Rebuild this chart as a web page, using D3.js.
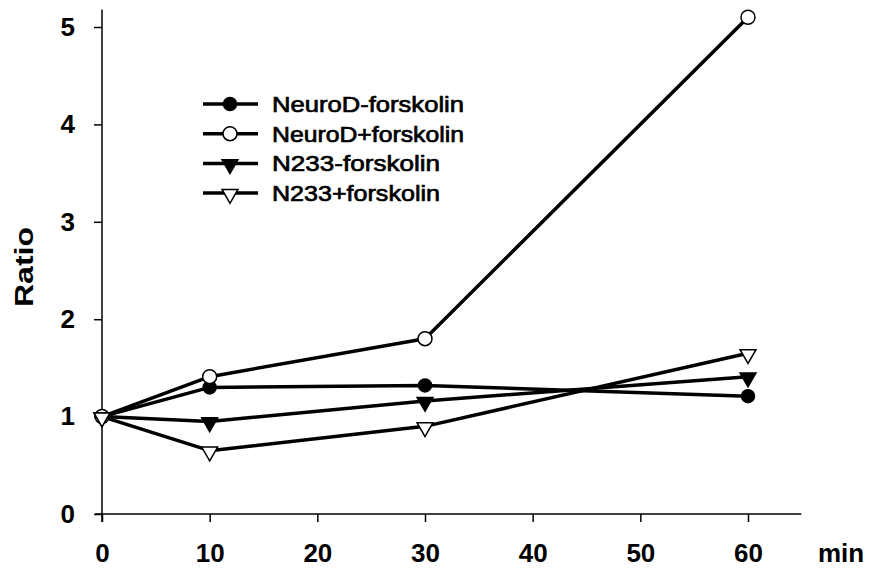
<!DOCTYPE html>
<html>
<head>
<meta charset="utf-8">
<script src="https://cdn.jsdelivr.net/npm/d3@7"></script>
<style>
  body { margin: 0; background: #fff; }
  svg { display: block; }
  text { font-family: "Liberation Sans", Arial, sans-serif; fill: #000; }
</style>
</head>
<body>
<div id="chart"></div>
<script>
// tempos (min) e séries
const minutos = [0, 10, 30, 60];
const neuroDMenos = [1.0, 1.3, 1.32, 1.21];
const neuroDMais = [1.0, 1.41, 1.8, 5.1];
const n233Menos = [1.0, 0.95, 1.16, 1.41];
const n233Mais = [1.0, 0.65, 0.9, 1.65];
const xTicks = [0, 10, 20, 30, 40, 50, 60];
const yTicks = [0, 1, 2, 3, 4, 5];

const series = [
    { name: "NeuroD-forskolin", values: neuroDMenos, shape: "circle", filled: true },
    { name: "NeuroD+forskolin", values: neuroDMais, shape: "circle", filled: false },
    { name: "N233-forskolin", values: n233Menos, shape: "triangle", filled: true },
    { name: "N233+forskolin", values: n233Mais, shape: "triangle", filled: false }
];

const width = 877, height = 569;

const svg = d3.select("#chart")
    .append("svg")
    .attr("width", width)
    .attr("height", height);

const x = d3.scaleLinear().domain([0, 60]).range([102, 748]);
const y = d3.scaleLinear().domain([0, 5]).range([514, 27]);

// eixos
const xAxis = svg.append("g")
    .attr("transform", "translate(0," + y(0) + ")")
    .call(d3.axisBottom(x).tickValues(xTicks).tickFormat(d3.format("d"))
        .tickSize(8).tickSizeOuter(0).tickPadding(22));
xAxis.select(".domain").remove();

const yAxis = svg.append("g")
    .attr("transform", "translate(" + x(0) + ",0)")
    .call(d3.axisLeft(y).tickValues(yTicks).tickFormat(d3.format("d"))
        .tickSize(8).tickSizeOuter(0).tickPadding(19));
yAxis.select(".domain").remove();

svg.selectAll(".tick line").attr("stroke", "#000").attr("stroke-width", 1.5);
svg.selectAll(".tick text")
    .style("font-family", "'Liberation Sans', Arial, sans-serif")
    .style("font-size", "26px")
    .style("font-weight", "bold")
    .attr("fill", "#000");

svg.append("line")
    .attr("x1", x(-0.65)).attr("x2", x(64.95))
    .attr("y1", y(0)).attr("y2", y(0))
    .attr("stroke", "#000").attr("stroke-width", 1.5);
svg.append("line")
    .attr("x1", x(0)).attr("x2", x(0))
    .attr("y1", y(5.18)).attr("y2", y(0) + 8)
    .attr("stroke", "#000").attr("stroke-width", 1.5);

svg.append("text")
    .attr("x", 818).attr("y", 562)
    .style("font-size", "26px").style("font-weight", "bold")
    .text("min");

svg.append("text")
    .attr("transform", "translate(33,267) rotate(-90)")
    .attr("text-anchor", "middle")
    .attr("textLength", 80)
    .attr("lengthAdjust", "spacingAndGlyphs")
    .style("font-size", "26px").style("font-weight", "bold")
    .text("Ratio");

// linhas e marcadores
const line = d3.line()
    .x((d, i) => x(minutos[i]))
    .y(d => y(d));

function drawMarker(g, s, cx, cy) {
    if (s.shape === "circle") {
        g.append("circle")
            .attr("cx", cx).attr("cy", cy)
            .attr("r", s.filled ? 6.5 : 7)
            .attr("fill", s.filled ? "#000" : "#fff")
            .attr("stroke", "#000")
            .attr("stroke-width", 1.5);
    } else {
        const sym = d3.symbol().type(d3.symbolTriangle).size(110);
        g.append("path")
            .attr("d", sym())
            .attr("transform", "translate(" + cx + "," + (cy + 1) + ") rotate(180)")
            .attr("fill", s.filled ? "#000" : "#fff")
            .attr("stroke", "#000")
            .attr("stroke-width", 1.5);
    }
}

series.forEach(s => {
    svg.append("path")
        .datum(s.values)
        .attr("d", line)
        .attr("fill", "none")
        .attr("stroke", "#000")
        .attr("stroke-width", 3.5)
        .attr("stroke-linejoin", "round");
});

series.forEach(s => {
    const g = svg.append("g");
    s.values.forEach((v, i) => drawMarker(g, s, x(minutos[i]), y(v)));
});

// legenda
const legend = svg.append("g");
series.forEach((s, i) => {
    const ly = 104 + i * 29.7;
    legend.append("line")
        .attr("x1", 203).attr("x2", 258)
        .attr("y1", ly).attr("y2", ly)
        .attr("stroke", "#000").attr("stroke-width", 3.5);
    drawMarker(legend, s, 230, ly);
    legend.append("text")
        .attr("x", 272).attr("y", ly + 8)
        .attr("textLength", s.name.length * 12)
        .attr("lengthAdjust", "spacingAndGlyphs")
        .style("font-size", "22px")
        .style("stroke", "#000").style("stroke-width", 0.7)
        .text(s.name);
});
</script>
</body>
</html>
